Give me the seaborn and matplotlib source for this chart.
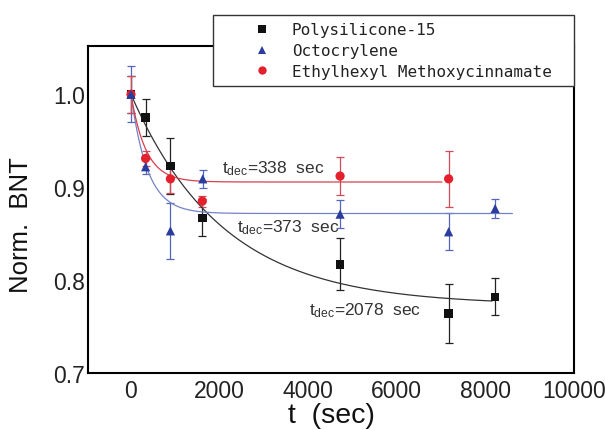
import numpy as np
import pandas as pd
import matplotlib
matplotlib.use("Agg")
import matplotlib.pyplot as plt
import seaborn as sns
from matplotlib.lines import Line2D

# ---------------- data ----------------
series_names = ["Polysilicone-15", "Octocrylene", "Ethylhexyl Methoxycinnamate"]

poly_t = [0, 330, 890, 1610, 4720, 7170, 8220]
poly_y = [1.000, 0.975, 0.923, 0.867, 0.817, 0.764, 0.782]
poly_err = [0.020, 0.020, 0.030, 0.020, 0.028, 0.032, 0.020]

octo_t = [0, 330, 890, 1620, 4720, 7170, 8220]
octo_y = [1.000, 0.922, 0.853, 0.909, 0.871, 0.852, 0.877]
octo_err = [0.030, 0.008, 0.030, 0.010, 0.015, 0.020, 0.010]

ehmc_t = [0, 330, 890, 1610, 4720, 7170]
ehmc_y = [1.000, 0.931, 0.909, 0.885, 0.912, 0.909]
ehmc_err = [0.020, 0.008, 0.015, 0.006, 0.020, 0.030]

# exponential decay fits: y = plateau + (1 - plateau) * exp(-t / tau)
fit_tau = [2078, 373, 338]
fit_plateau = [0.773, 0.8717, 0.9056]
fit_tend = [8150, 8610, 7020]

annot_text = [r"t$_{\mathrm{dec}}$=2078  sec", r"t$_{\mathrm{dec}}$=373  sec", r"t$_{\mathrm{dec}}$=338  sec"]
annot_xy = [(4020, 0.763), (2383, 0.853), (2054, 0.916)]

x_ticks = [0, 2000, 4000, 6000, 8000, 10000]
y_ticks = [0.7, 0.8, 0.9, 1.0]

# ---------------- style ----------------
sns.set_style("white")
plt.rcParams['font.family'] = ['Liberation Sans', 'DejaVu Sans']
plt.rcParams['mathtext.fontset'] = 'custom'
plt.rcParams['mathtext.rm'] = 'Liberation Sans'
plt.rcParams['mathtext.it'] = 'Liberation Sans'

marker_colors = ['#111111', '#2a3c9e', '#e3202b']
err_colors = ['#222222', '#5566bb', '#cf4b57']
fit_colors = ['#333333', '#7383c8', '#d8404d']
markers = ['s', '^', 'o']

fig = plt.figure(figsize=(6.05, 4.31), dpi=100)
ax = fig.add_axes([88 / 605, 1 - 374 / 431, 486 / 605, 327 / 431])

data_t = [poly_t, octo_t, ehmc_t]
data_y = [poly_y, octo_y, ehmc_y]
data_e = [poly_err, octo_err, ehmc_err]

# error bars
for i in range(3):
    ax.errorbar(data_t[i], data_y[i], yerr=data_e[i], fmt='none',
                ecolor=err_colors[i], elinewidth=0.9, capsize=3.2, capthick=0.9, zorder=2)

# fit curves
for i in range(3):
    tt = np.linspace(0, fit_tend[i], 400)
    yy = fit_plateau[i] + (1 - fit_plateau[i]) * np.exp(-tt / fit_tau[i])
    fdf = pd.DataFrame({"t": tt, "y": yy})
    sns.lineplot(data=fdf, x="t", y="y", ax=ax, color=fit_colors[i], linewidth=0.9,
                 zorder=3, legend=False)

# markers (draw order: black, red, blue)
sizes = [38, 44, 44]
for i in [0, 2, 1]:
    df = pd.DataFrame({"t": data_t[i], "y": data_y[i]})
    sns.scatterplot(data=df, x="t", y="y", ax=ax, marker=markers[i], color=marker_colors[i],
                    s=sizes[i], edgecolor='none', linewidth=0, zorder=4, legend=False)

for txt, (xx, yy) in zip(annot_text, annot_xy):
    ax.text(xx, yy, txt, fontsize=12.5, color='#333333', ha='left', va='baseline')

ax.set_xlim(-970, 10000)
ax.set_ylim(0.7, 1.052)
ax.set_xticks(x_ticks)
ax.set_xticklabels([str(v) for v in x_ticks])
ax.set_yticks(y_ticks)
ax.set_yticklabels([f"{v:.1f}" for v in y_ticks])
ax.tick_params(axis='both', length=0, labelsize=16.5, colors='#222222')
ax.tick_params(axis='x', pad=4)
ax.tick_params(axis='y', pad=2)

for sp in ax.spines.values():
    sp.set_color('black')
    sp.set_linewidth(1.5)

ax.set_xlabel("t  (sec)", fontsize=20.5, color='#111111')
ax.set_ylabel("Norm.  BNT", fontsize=18.5, color='#111111')
ax.xaxis.set_label_coords((331 - 88) / 486, -0.088)
ax.yaxis.set_label_coords((33 - 88) / 486, 0.455)

handles = [Line2D([], [], linestyle='none', marker=markers[i], color=marker_colors[i],
                  markersize=6.0, markeredgewidth=0) for i in range(3)]
leg = ax.legend(handles, series_names, loc='upper left', mode='expand',
                bbox_to_anchor=((213 - 88) / 486, 1 + 31 / 327, (574 - 213) / 486, 0),
                prop={'family': 'DejaVu Sans Mono', 'size': 11.5},
                frameon=True, fancybox=False, framealpha=1, edgecolor='#333333',
                borderpad=0.45, labelspacing=0.37, handletextpad=-0.74, handlelength=5.23,
                borderaxespad=0)
leg.get_frame().set_linewidth(1.0)
for t in leg.get_texts():
    t.set_color('#222222')

fig.savefig("out.png", dpi=100)
